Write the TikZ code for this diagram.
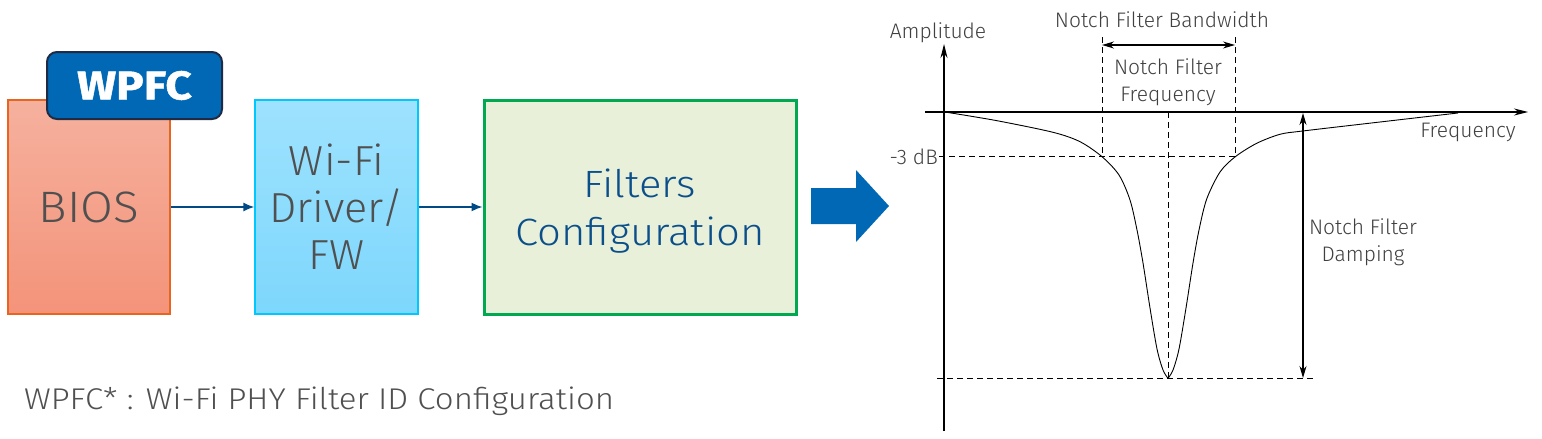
\documentclass[tikz,border=0pt]{standalone}
\usepackage{fontspec}
\setmainfont{Fira Sans Light}[BoldFont=Fira Sans Bold]
\newfontfamily\wideA{Fira Sans Light}[FakeStretch=1.08]
\newfontfamily\wideB{Fira Sans Light}[FakeStretch=1.1]
\newfontfamily\wideC{Fira Sans Light}[FakeStretch=1.03]
\newfontfamily\wideBold{Fira Sans Bold}[FakeStretch=1.15,FakeBold=1.2]
\usetikzlibrary{arrows.meta}
\definecolor{biosA}{HTML}{F5B19E}
\definecolor{biosB}{HTML}{F4937A}
\definecolor{biosE}{HTML}{E8651F}
\definecolor{wifiA}{HTML}{9EE2FE}
\definecolor{wifiB}{HTML}{7DD7FC}
\definecolor{wifiE}{HTML}{00C8FF}
\definecolor{filtF}{HTML}{E8F0DA}
\definecolor{filtE}{HTML}{00A94F}
\definecolor{iblue}{HTML}{0068B5}
\definecolor{navy}{HTML}{1F2A44}
\definecolor{connc}{HTML}{004A86}
\definecolor{txtg}{HTML}{505050}
\definecolor{txtb}{HTML}{0B4F8A}
\definecolor{grtx}{HTML}{404040}
\begin{document}
\begin{tikzpicture}[x=1pt,y=-1pt,
  blk/.style={rectangle,inner sep=0pt,align=center,text=txtg},
  conn/.style={draw=connc,line width=1.6pt,-{Latex[length=11pt,width=9pt]}},
  axis/.style={line width=1.2pt,-{Stealth[length=14pt,width=7pt]}},
  dsh/.style={line width=1pt,dash pattern=on 6pt off 4pt},
  dim/.style={line width=1.2pt,{Stealth[length=12pt,width=7pt]}-{Stealth[length=12pt,width=7pt]}},
  glab/.style={text=grtx,font=\fontsize{21}{27}\selectfont,inner sep=0pt,align=center},
  curve/.style={line width=0.9pt}]
\useasboundingbox (0,0) rectangle (1542,439);
% blocks
\node[blk,minimum width=162pt,minimum height=214pt,top color=biosA,bottom color=biosB,draw=biosE,line width=1.5pt,
  font=\wideA\fontsize{44}{48}\selectfont] (bios) at (89,207) {BIOS};
\node[rectangle,rounded corners=10pt,minimum width=175pt,minimum height=67pt,fill=iblue,draw=navy,line width=2pt,
  text=white,font=\wideBold\fontsize{40}{44}\selectfont,inner sep=0pt] (wpfc) at (134.5,85.5) {WPFC};
\node[blk,minimum width=163pt,minimum height=214pt,top color=wifiA,bottom color=wifiB,draw=wifiE,line width=1.2pt,
  font=\wideC\fontsize{42}{47}\selectfont] (wifi) at (336.5,207) {Wi-Fi\\Driver/\\FW};
\node[blk,minimum width=312pt,minimum height=214pt,fill=filtF,draw=filtE,line width=3pt,text=txtb,
  font=\wideB\fontsize{38}{48}\selectfont,text depth=0pt] (filt) at (640,207) {\rule{0pt}{6pt}Filters\\Configuration};
\draw[conn] (bios.east) -- (wifi.west);
\draw[conn] (wifi.east) -- (filt.west);
% footnote
\node[anchor=west,inner sep=0pt,text=txtg,font=\wideB\fontsize{30}{34}\selectfont] (foot) at (24,401) {WPFC* : Wi-Fi PHY Filter ID Configuration};
% big arrow
\fill[iblue] (811,188) -- (856,188) -- (856,170) -- (889,206) -- (856,242) -- (856,224) -- (811,224) -- cycle;
% graph
\coordinate (yb) at (944,431);
\coordinate (yt) at (944,44);
\coordinate (xl) at (925,112);
\coordinate (xr) at (1528,112);
\draw[axis] (yb) -- (yt);
\draw[axis] (xl) -- (xr);
\coordinate (bwl) at (1102,45);
\coordinate (bwr) at (1235,45);
\draw[dsh] (1102,37) -- (1102,156.7);
\draw[dsh] (1235,37) -- (1235,156.7);
\draw[dsh] (939,156.7) -- (1235,156.7);
\draw[dsh] (1168,112) -- (1168,378);
\draw[dsh] (937,378) -- (1316,378);
\draw[dim] (bwl) -- (bwr);
\coordinate (dt) at (1303,113);
\coordinate (db) at (1303,378);
\draw[dim] (dt) -- (db);
\draw[curve] plot[smooth,tension=0.5] coordinates {(948,112.5) (997,120.7) (1053,132.3) (1080,141.7) (1102,156.7) (1119,175) (1130,200) (1137,230) (1143,263) (1150,308) (1157,349) (1163,370) (1168,378.3)};
\draw[curve] plot[smooth,tension=0.5] coordinates {(1168,378.3) (1173,370) (1179,349) (1186,308) (1193,263) (1199,230) (1206.7,199) (1220,172) (1235.3,156.7) (1256.7,143.3) (1280,134.3) (1302.7,131) (1380,122) (1458,113)};
% labels
\node[glab] (amp) at (938,33) {Amplitude};
\node[glab] (bw) at (1162,20) {Notch Filter Bandwidth};
\node[glab] (nff) at (1168,82) {Notch Filter\\Frequency};
\node[glab] (fr) at (1468,132) {Frequency};
\node[glab,anchor=east] (db3) at (938,157) {-3 dB};
\node[glab] (dmp) at (1363,242) {Notch Filter\\Damping};
\end{tikzpicture}
\end{document}
